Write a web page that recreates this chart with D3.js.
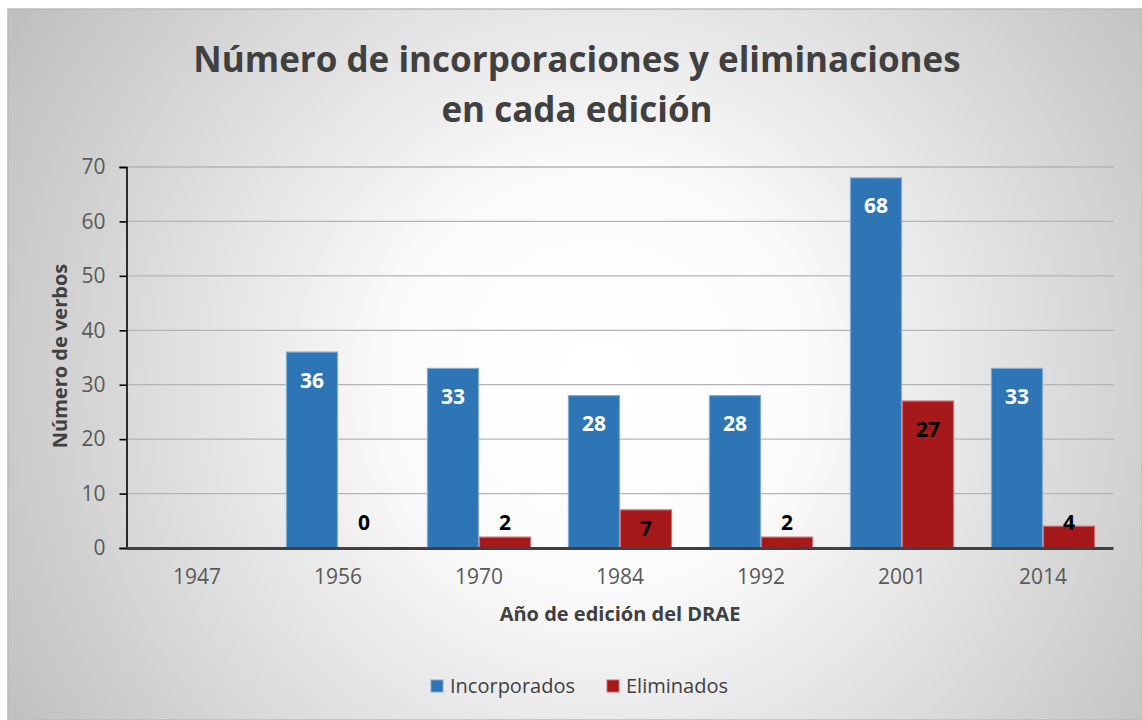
<!DOCTYPE html>
<html lang="es">
<head>
<meta charset="UTF-8">
<title>Número de incorporaciones y eliminaciones</title>
<style>
    body { margin: 0; background: #fff; }
    svg { display: block; font-family: "Open Sans", sans-serif; }
</style>
</head>
<body>
<div id="chart"></div>
<script src="https://d3js.org/d3.v7.min.js"></script>
<script>
// data
const years        = ["1947", "1956", "1970", "1984", "1992", "2001", "2014"];
const series       = ["Incorporados", "Eliminados"];
const incorporados = [null, 36, 33, 28, 28, 68, 33];
const eliminados   = [null, 0, 2, 7, 2, 27, 4];
const yTicks       = [0, 10, 20, 30, 40, 50, 60, 70];

const colors  = { Incorporados: "#2E75B6", Eliminados: "#A6191B" };
const strokes = { Incorporados: "#7FAAD6", Eliminados: "#D06A6C" };
const labelColor = { Incorporados: "#fff", Eliminados: "#000" };

const width = 1142, height = 720;
const plot = { left: 126.5, right: 1113.5, top: 167, bottom: 548 };

const svg = d3.select("#chart").append("svg")
    .attr("width", width).attr("height", height);

// background gradient
const defs = svg.append("defs");
const grad = defs.append("radialGradient").attr("id", "bg")
    .attr("gradientUnits", "userSpaceOnUse")
    .attr("cx", 600).attr("cy", 380).attr("r", 680);
grad.append("stop").attr("offset", "0").attr("stop-color", "#ffffff");
grad.append("stop").attr("offset", "0.3").attr("stop-color", "#fbfbfb");
grad.append("stop").attr("offset", "1").attr("stop-color", "#c0c0c0");

svg.append("rect")
    .attr("x", 8).attr("y", 9).attr("width", width - 8).attr("height", height - 9)
    .attr("fill", "url(#bg)").attr("stroke", "#bcbcbc").attr("stroke-width", 1.5);

// title
const title = svg.append("text")
    .attr("text-anchor", "middle")
    .attr("font-weight", 700).attr("font-size", 35).attr("fill", "#404040");
title.append("tspan").attr("x", 577).attr("y", 72).text("Número de incorporaciones y eliminaciones");
title.append("tspan").attr("x", 577).attr("y", 122).text("en cada edición");

// scales
const x0 = d3.scaleBand().domain(years)
    .range([plot.left, plot.right]).paddingInner(0.262).paddingOuter(0.131);
const x1 = d3.scaleBand().domain(series).range([0, x0.bandwidth()]);
const y = d3.scaleLinear().domain([0, 70]).range([plot.bottom, plot.top]);

// gridlines
svg.append("g")
    .selectAll("line").data(yTicks.filter(d => d > 0)).join("line")
    .attr("x1", plot.left).attr("x2", plot.right)
    .attr("y1", d => y(d)).attr("y2", d => y(d))
    .attr("stroke", "#b5b5b5").attr("stroke-width", 1.3);

// y axis
const yAxis = svg.append("g")
    .attr("transform", `translate(${plot.left},0)`)
    .call(d3.axisLeft(y).tickValues(yTicks).tickSize(7).tickPadding(14));
yAxis.select(".domain").attr("stroke", "#000").attr("stroke-width", 1.6);
yAxis.selectAll(".tick line").attr("stroke", "#000").attr("stroke-width", 1.6);
yAxis.selectAll("text").attr("font-size", 21).attr("fill", "#595959")
    .attr("font-family", "Open Sans, sans-serif");

// x axis labels
const xAxis = svg.append("g")
    .attr("transform", `translate(0,${plot.bottom})`)
    .call(d3.axisBottom(x0).tickSize(0).tickPadding(21));
xAxis.select(".domain").remove();
xAxis.selectAll("text").attr("font-size", 21).attr("fill", "#595959")
    .attr("font-family", "Open Sans, sans-serif");

// bars
const rows = years.map((yr, i) => ({ year: yr, Incorporados: incorporados[i], Eliminados: eliminados[i] }));
const groups = svg.append("g").selectAll("g").data(rows).join("g")
    .attr("transform", d => `translate(${x0(d.year)},0)`);

const cells = groups.selectAll("g").data(d => series.map(s => ({ key: s, value: d[s] })).filter(c => c.value !== null))
    .join("g");

cells.append("rect")
    .attr("x", d => x1(d.key) + 0.5)
    .attr("width", x1.bandwidth() - 1)
    .attr("y", d => y(d.value))
    .attr("height", d => y(0) - y(d.value))
    .attr("fill", d => colors[d.key])
    .attr("stroke", d => d.value > 0 ? strokes[d.key] : "none")
    .attr("stroke-width", 1.2);

function labelY(v) {
    const h = y(0) - y(v);
    if (h >= 40) return y(v) + 28;
    if (h >= 30) return y(0) - 20;
    return y(0) - 26;
}

cells.append("text")
    .attr("x", d => x1(d.key) + x1.bandwidth() / 2)
    .attr("y", d => labelY(d.value))
    .attr("dy", "0.36em")
    .attr("text-anchor", "middle")
    .attr("font-weight", 700).attr("font-size", 21)
    .attr("fill", d => labelColor[d.key])
    .text(d => d.value);

// x axis baseline
svg.append("line")
    .attr("x1", plot.left).attr("x2", plot.right)
    .attr("y1", y(0) + 0.5).attr("y2", y(0) + 0.5)
    .attr("stroke", "#404040").attr("stroke-width", 3.2);

// axis titles
svg.append("text")
    .attr("transform", "translate(67,356) rotate(-90)")
    .attr("text-anchor", "middle")
    .attr("font-weight", 700).attr("font-size", 20).attr("fill", "#404040")
    .text("Número de verbos");

svg.append("text")
    .attr("x", (plot.left + plot.right) / 2).attr("y", 621)
    .attr("text-anchor", "middle")
    .attr("font-weight", 700).attr("font-size", 20).attr("fill", "#404040")
    .text("Año de edición del DRAE");

// legend
const legendItems = [{ key: "Incorporados", x: 431 }, { key: "Eliminados", x: 607 }];
const legend = svg.append("g").selectAll("g").data(legendItems).join("g")
    .attr("transform", d => `translate(${d.x},680)`);
legend.append("rect")
    .attr("width", 12).attr("height", 12)
    .attr("fill", d => colors[d.key]).attr("stroke", d => strokes[d.key]).attr("stroke-width", 1);
legend.append("text")
    .attr("x", 19).attr("y", 6).attr("dy", "0.36em")
    .attr("font-size", 20).attr("fill", "#404040")
    .text(d => d.key);
</script>
</body>
</html>
